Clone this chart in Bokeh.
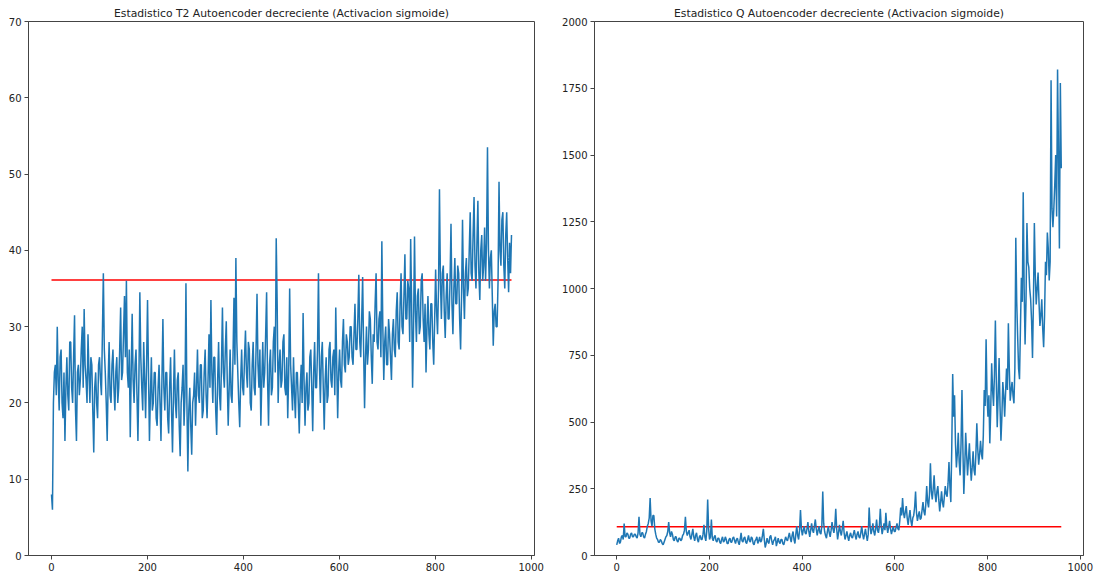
import numpy as np
from bokeh.plotting import figure
from bokeh.layouts import row
from bokeh.models import Range1d, FixedTicker
from bokeh.embed import file_html
from bokeh.resources import INLINE

# ---- data (one value every ~2 samples) ----
t2_values = [
    8, 6, 20, 24, 25, 21, 30, 23, 19, 26, 27, 20, 18, 24, 15, 22, 26, 21, 19, 28,
    28, 22, 20, 26, 31.5, 19, 15, 24, 25, 21, 23, 27, 30, 22, 32.3, 25, 23, 20, 29, 24,
    20, 26, 25, 19, 13.5, 22, 24, 20, 18, 25, 26, 23, 21, 29, 37, 27, 24, 20, 15, 23,
    28, 21, 20, 25, 27, 22, 19, 24, 26, 20, 22, 27, 32.5, 23, 24, 29, 34, 26, 36, 24,
    22, 27, 15.5, 24, 31.7, 23, 20, 25, 27, 21, 15, 23, 34.5, 26, 22, 19, 28, 23, 18, 25,
    33.5, 24, 15, 21, 26, 19, 20, 24, 24, 18, 17, 22, 25, 20, 15, 23, 31, 22, 19, 24,
    24, 18, 16, 22, 26, 19, 13.5, 21, 27, 20, 18, 23, 24, 17, 13, 20, 22, 25, 17, 21,
    35.7, 20, 11, 19, 22, 17, 13.2, 20, 21, 24, 17, 22, 27, 21, 20, 25, 25, 18, 19, 24,
    27, 21, 18, 23, 29, 22, 33.5, 24, 20, 26, 26, 19, 15.8, 23, 28, 21, 19, 25, 32.5, 24,
    22, 27, 30.7, 23, 17, 22, 27, 21, 20, 26, 33.8, 25, 39, 28, 24, 20, 16.8, 23, 27, 22,
    21, 26, 29.5, 24, 22, 28, 27, 20, 19, 25, 28, 22, 21, 27, 34.3, 25, 22, 27, 17, 23,
    28, 22, 24, 29, 34.5, 23, 17, 25, 27, 21, 22, 28, 30, 24, 41.6, 33, 20, 25, 27, 22,
    23, 28, 29, 22, 21, 26, 18, 24, 35, 25, 22, 19, 26, 21, 18, 24, 24, 20, 16, 22,
    25, 20, 31.8, 23, 17, 22, 24, 19, 20, 26, 27, 22, 16.3, 24, 28, 22, 22, 27, 37, 25,
    20, 26, 28, 22, 16.5, 23, 26, 20, 21, 27, 28, 23, 22, 26, 27, 21, 32.5, 25, 18, 24,
    27, 23, 22, 28, 31, 25, 24, 29, 28, 25, 26, 30, 30, 26, 25, 29, 33, 27, 27, 31,
    36.8, 28, 26, 31, 36.5, 27, 19.3, 26, 30, 25, 27, 32, 31, 26, 22.5, 29, 28, 33, 37, 28,
    27, 31, 32, 26, 41.2, 30, 23, 28, 30, 25, 25, 31, 29, 26, 23, 29, 31, 27, 26, 32,
    34.5, 28, 27, 33, 37, 30, 29, 34, 39.5, 31, 31, 36, 35, 28, 41.5, 33, 22, 30, 41.8, 32,
    28, 34, 35, 29, 30, 36, 37, 31, 28, 33, 24, 30, 34, 29, 27, 33, 33, 28, 25, 31,
    37.5, 32, 29, 35, 48, 36, 31, 37, 38, 32, 28.5, 34, 37, 31, 31, 36, 43.5, 33, 29, 35,
    39, 33, 33, 38, 37, 31, 27, 34, 44, 35, 31, 37, 39, 34, 35, 40, 45, 37, 36, 42,
    47, 38, 35, 41, 46.5, 37, 33.5, 40, 42, 36, 38, 43, 36, 41, 53.5, 40, 35, 39, 40, 34,
    27.5, 32, 33, 30, 30, 36, 49, 40, 38, 44, 45, 38, 35, 42, 45, 39, 34.5, 41, 37, 42,
]

q_values = [
    40, 55, 65, 45, 50, 70, 75, 60, 120, 70, 70, 85, 80, 65, 65, 80, 85, 70, 70, 80,
    80, 70, 65, 85, 145, 80, 70, 85, 85, 70, 65, 80, 90, 110, 120, 140, 215, 130, 110, 150,
    150, 100, 80, 65, 60, 50, 50, 60, 55, 45, 40, 50, 60, 70, 75, 90, 125, 85, 70, 90,
    80, 60, 55, 70, 70, 55, 50, 65, 65, 55, 60, 75, 80, 95, 145, 90, 75, 85, 95, 70,
    60, 80, 100, 70, 55, 75, 85, 60, 50, 70, 75, 60, 60, 80, 115, 70, 55, 90, 210, 100,
    60, 70, 135, 65, 55, 70, 75, 55, 50, 65, 65, 50, 45, 60, 70, 50, 55, 70, 60, 45,
    45, 60, 65, 50, 50, 65, 70, 55, 45, 60, 65, 50, 40, 60, 85, 55, 50, 65, 70, 50,
    45, 60, 75, 55, 50, 70, 65, 45, 40, 55, 60, 70, 45, 55, 70, 50, 55, 75, 100, 60,
    30, 45, 65, 50, 45, 70, 75, 55, 40, 55, 60, 70, 35, 50, 65, 50, 45, 60, 60, 45,
    40, 55, 70, 60, 55, 70, 85, 65, 50, 75, 90, 60, 45, 80, 110, 75, 60, 95, 170, 100,
    75, 95, 110, 85, 80, 100, 125, 90, 70, 95, 120, 95, 85, 110, 135, 100, 75, 95, 110, 85,
    80, 110, 240, 120, 90, 75, 65, 90, 110, 85, 70, 95, 125, 100, 85, 110, 175, 100, 60, 85,
    115, 90, 75, 100, 130, 85, 60, 75, 90, 70, 55, 75, 85, 70, 65, 80, 95, 75, 60, 80,
    90, 70, 65, 85, 110, 80, 60, 80, 100, 75, 55, 80, 180, 110, 80, 95, 120, 90, 75, 100,
    135, 95, 85, 110, 175, 110, 80, 100, 120, 95, 160, 110, 85, 105, 130, 100, 80, 95, 110, 90,
    90, 105, 120, 100, 95, 130, 180, 150, 215, 160, 140, 165, 185, 140, 115, 145, 170, 130, 110, 140,
    150, 180, 240, 160, 130, 150, 165, 135, 140, 170, 200, 165, 150, 190, 260, 200, 180, 230, 345, 240,
    210, 250, 300, 230, 200, 240, 260, 210, 165, 200, 240, 200, 180, 220, 260, 230, 220, 270, 350, 260,
    200, 400, 680, 520, 600, 420, 330, 380, 460, 350, 300, 420, 620, 400, 230, 330, 460, 380, 300, 360,
    420, 340, 280, 330, 390, 320, 300, 380, 495, 400, 340, 380, 430, 380, 360, 450, 620, 560, 810, 600,
    520, 600, 420, 550, 720, 620, 560, 680, 880, 650, 480, 600, 740, 560, 430, 520, 650, 600, 520, 610,
    700, 620, 870, 700, 580, 620, 650, 600, 570, 700, 1190, 950, 820, 700, 660, 850, 1040, 950, 1360, 1000,
    790, 950, 1245, 1100, 1080, 1000, 960, 880, 740, 950, 1245, 1050, 940, 1000, 1060, 950, 860, 900, 960, 850,
    780, 900, 1100, 1050, 1210, 1150, 1030, 1100, 1780, 1300, 1230, 1300, 1390, 1500, 1270, 1820, 1500, 1150, 1770, 1450,
]

t2_limit = 36.1
q_limit = 108
n_samples = 960

t2_title = "Estadistico T2 Autoencoder decreciente (Activacion sigmoide)"
q_title = "Estadistico Q Autoencoder decreciente (Activacion sigmoide)"

x_t2 = np.linspace(0, n_samples - 1, len(t2_values))
x_q = np.linspace(0, n_samples - 1, len(q_values))

BLUE = "#1f77b4"
FONT = "DejaVu Sans"
xr = (-0.05 * (n_samples - 1), 1.05 * (n_samples - 1))


def make_fig(width, border_left, border_right, ymax, yticks, title):
    p = figure(width=width, height=574, output_backend="svg", toolbar_location=None,
               x_range=Range1d(*xr), y_range=Range1d(0, ymax),
               min_border_left=border_left, min_border_right=border_right,
               min_border_top=21, min_border_bottom=19, title=title)
    p.title.align = "center"
    p.title.text_font = FONT
    p.title.text_font_size = "10.8px"
    p.title.text_font_style = "normal"
    p.title.text_color = "#222222"
    p.title.standoff = 3
    p.grid.visible = False
    p.outline_line_color = "#444444"
    p.outline_line_width = 1
    p.background_fill_color = "white"
    p.border_fill_color = "white"
    for ax in (p.xaxis, p.yaxis):
        ax.axis_line_color = "#444444"
        ax.major_tick_line_color = "#444444"
        ax.major_tick_out = 4
        ax.major_tick_in = 0
        ax.minor_tick_line_color = None
        ax.major_label_text_font = FONT
        ax.major_label_text_font_size = "10px"
        ax.major_label_text_color = "#222222"
        ax.major_label_standoff = 3
    p.xaxis.ticker = FixedTicker(ticks=[0, 200, 400, 600, 800, 1000])
    p.yaxis.ticker = FixedTicker(ticks=yticks)
    return p


p1 = make_fig(545, 28, 11, 70, [0, 10, 20, 30, 40, 50, 60, 70], t2_title)
p1.line([0, n_samples - 1], [t2_limit, t2_limit], line_color="red", line_width=1.5)
p1.line(x_t2, t2_values, line_color=BLUE, line_width=1.5)

p2 = make_fig(552, 49, 14, 2000, [0, 250, 500, 750, 1000, 1250, 1500, 1750, 2000], q_title)
p2.line([0, n_samples - 1], [q_limit, q_limit], line_color="red", line_width=1.5)
p2.line(x_q, q_values, line_color=BLUE, line_width=1.5)

layout = row(p1, p2)
open("out.html", "w").write(file_html(layout, INLINE))
